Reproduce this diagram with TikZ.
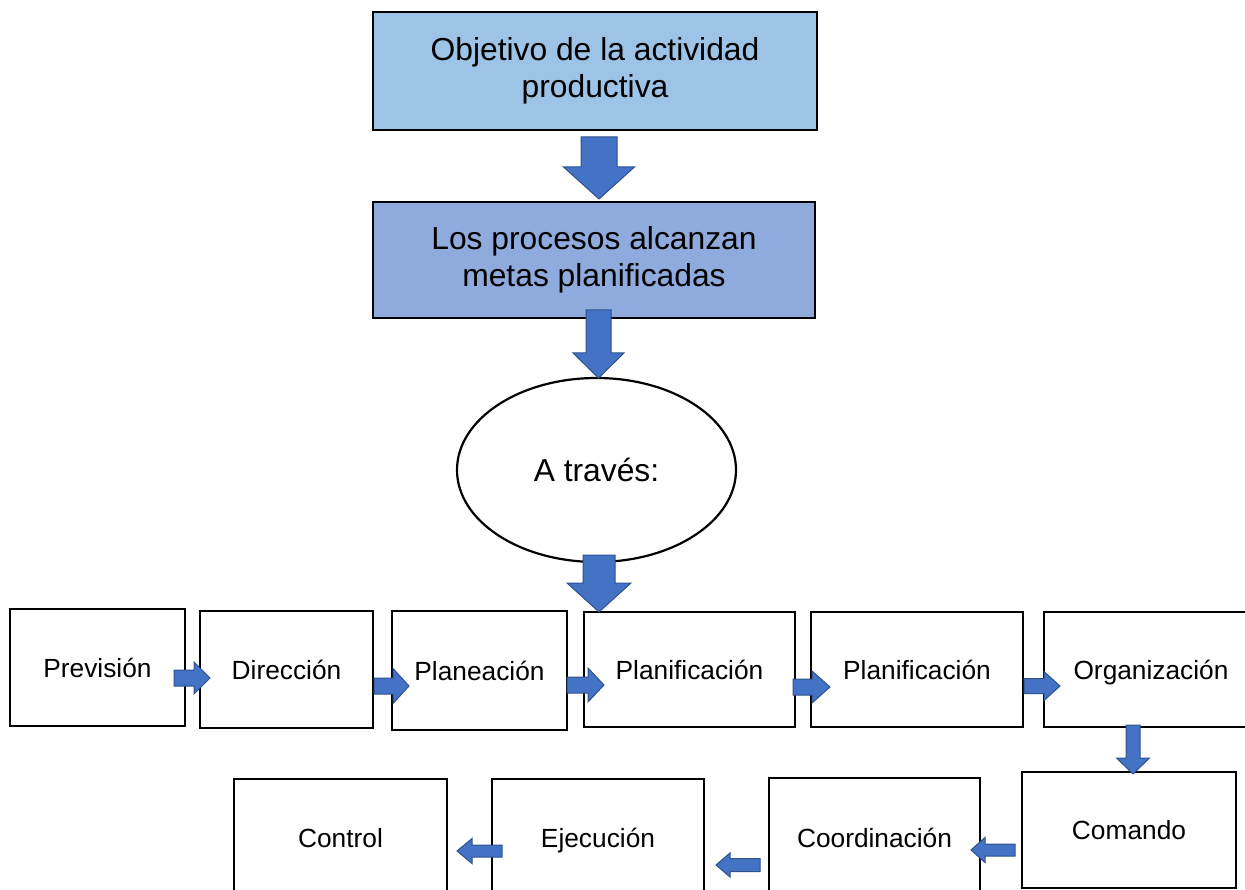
\documentclass[tikz,border=0pt]{standalone}
\usepackage{fontspec}
\setmainfont{Liberation Sans}
\usetikzlibrary{calc,shapes.geometric}

\definecolor{lightblue}{HTML}{9DC3E6}
\definecolor{midblue}{HTML}{8FAADC}
\definecolor{arrowblue}{HTML}{4472C4}
\definecolor{arrowedge}{HTML}{2F528F}

\tikzset{
    boxbase/.style={draw, line width=2.4pt, fill=white, inner sep=2pt, align=center},
    stagebox/.style={boxbase, font=\fontsize{26.3}{31}\selectfont, text height=19pt, text depth=0pt},
    goalbox/.style={boxbase, font=\fontsize{31.8}{37}\selectfont},
    arrowbody/.style={fill=arrowblue, draw=arrowedge, line width=1pt, line join=miter},
}

% block arrow: start, tip, shaft half width, head half width, head length
\newcommand{\fatarrow}[5]{%
    \coordinate (hb) at ($(#2)!#5!(#1)$);
    \draw[arrowbody] ($(#1)!#3!90:(#2)$) -- ($(hb)!#3!-90:(#1)$) -- ($(hb)!#4!-90:(#1)$)
        -- (#2) -- ($(hb)!#4!90:(#1)$) -- ($(hb)!#3!90:(#1)$) -- ($(#1)!#3!-90:(#2)$) -- cycle;
}

\begin{document}
\begin{tikzpicture}[x=1pt, y=-1pt]
    \useasboundingbox (0,0) rectangle (1245,890);
    \clip (0,0) rectangle (1245,890);

    % --- Goal and planned targets ---
    \node[goalbox, fill=lightblue, minimum width=444, minimum height=118] (goal) at (595,71) {Objetivo de la actividad\\productiva};
    \node[goalbox, fill=midblue, minimum width=442, minimum height=116] (targets) at (594,260) {Los procesos alcanzan\\metas planificadas};
    \node[goalbox, ellipse, minimum width=279, minimum height=184, inner sep=0pt, line width=2.2pt] (means) at (596.5,470) {A trav\'es:};
    % ---

    % --- First row of stages ---
    \node[stagebox, minimum width=175, minimum height=117] (prevision) at (97.5,667.5) {Previsi\'on};
    \node[stagebox, minimum width=173, minimum height=117] (direccion) at (286.5,669.5) {Direcci\'on};
    \node[stagebox, minimum width=175, minimum height=119] (planeacion) at (479.5,670.5) {Planeaci\'on};
    \node[stagebox, minimum width=211, minimum height=115] (planifA) at (689.5,669.5) {Planificaci\'on};
    \node[stagebox, minimum width=212, minimum height=115] (planifB) at (917,669.5) {Planificaci\'on};
    \node[stagebox, minimum width=214, minimum height=115] (organiz) at (1151,669.5) {Organizaci\'on};
    % ---

    % --- Second row of stages ---
    \node[stagebox, minimum width=214, minimum height=116] (comando) at (1129,830) {Comando};
    \node[stagebox, minimum width=211, minimum height=120] (coordin) at (874.5,838) {Coordinaci\'on};
    \node[stagebox, minimum width=212, minimum height=118] (ejecucion) at (598,838) {Ejecuci\'on};
    \node[stagebox, minimum width=213, minimum height=118] (control) at (340.5,838) {Control};
    % ---

    % --- Block arrows ---
    \coordinate (goalout) at (599,137);    \coordinate (targetsin) at (599,199);
    \coordinate (targetsout) at (598.5,310); \coordinate (meansin) at (598.5,378);
    \coordinate (meansout) at (599,555);   \coordinate (planifAin) at (599,612);
    \coordinate (prevout) at (174,678);    \coordinate (dirin) at (210,678);
    \coordinate (dirout) at (374,686);     \coordinate (planin) at (409,686);
    \coordinate (planout) at (567,685);    \coordinate (planifAside) at (604,685);
    \coordinate (planifAout) at (793,687); \coordinate (planifBin) at (830,687);
    \coordinate (planifBout) at (1024,686); \coordinate (orgin) at (1060,686);
    \coordinate (orgout) at (1133,725);    \coordinate (comin) at (1133,774);
    \coordinate (comout) at (1015,850);    \coordinate (coordinin) at (971,850);
    \coordinate (coordinout) at (760,865); \coordinate (ejecin) at (716,865);
    \coordinate (ejecout) at (502,851);    \coordinate (controlin) at (457,851);

    \fatarrow{goalout}{targetsin}{18pt}{35.5pt}{32pt}
    \fatarrow{targetsout}{meansin}{12.5pt}{25.5pt}{25pt}
    \fatarrow{meansout}{planifAin}{16pt}{32pt}{29pt}
    \fatarrow{prevout}{dirin}{8pt}{16pt}{16pt}
    \fatarrow{dirout}{planin}{8pt}{17.5pt}{16pt}
    \fatarrow{planout}{planifAside}{8pt}{17pt}{16pt}
    \fatarrow{planifAout}{planifBin}{8pt}{16pt}{18pt}
    \fatarrow{planifBout}{orgin}{7.5pt}{14.5pt}{16pt}
    \fatarrow{orgout}{comin}{7pt}{16.5pt}{16pt}
    \fatarrow{comout}{coordinin}{6pt}{12.5pt}{14pt}
    \fatarrow{coordinout}{ejecin}{6.5pt}{12pt}{14pt}
    \fatarrow{ejecout}{controlin}{6pt}{12.5pt}{15pt}
    % ---
\end{tikzpicture}
\end{document}
